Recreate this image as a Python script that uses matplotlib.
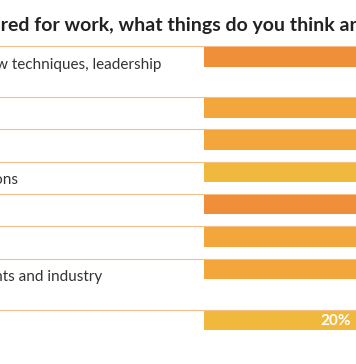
import matplotlib
matplotlib.use("Agg")
import matplotlib.pyplot as plt

plt.rcParams['font.family'] = ['Lato', 'DejaVu Sans']

title = "When you feel prepared for work, what things do you think are most important?"
labels = [
    "Learning about new techniques, leadership\nskills",
    "Teamwork",
    "Communication",
    "Personal connections",
    "Problem solving",
    "Organisation",
    "Awareness of events and industry\ntrends",
    "Adaptability",
]
values = [38, 31, 30, 26, 36, 30, 29, 20]
colors = ["#EF8F39", "#F2A63B", "#F2A63B", "#F0B93E",
          "#EF8F39", "#F2A63B", "#F2A63B", "#F0B93E"]
shown = [None, None, None, None, None, None, None, "20%"]

W, H = 356, 364
px = 7.6            # pixels per percent point
bar_left = 204      # pixel where the bars start

fig = plt.figure(figsize=(W / 100, H / 100), dpi=100)
ax = fig.add_axes([0, 0, 1, 1])
ax.set_xlim(-bar_left / px, (W - bar_left) / px)
ax.set_ylim(H, 0)
ax.axis("off")

# row layout: two-line labels take a taller row
tops = []
y = 46
for lab in labels:
    tops.append(y)
    y += 51 if "\n" in lab else 32.3

label_x = (-bar_left - 125) / px
for top, lab, v, c, s in zip(tops, labels, values, colors, shown):
    ax.axhline(top, color="#F6BF88", lw=0.8, zorder=1)
    ax.barh(top + 1, v, height=19.5, left=0, align="edge", color=c, zorder=2)
    ax.text(label_x, top + 11.5, lab, ha="left", va="top", fontsize=11,
            color="#333333", linespacing=1.25)
    if s:
        ax.annotate(s, (v, top + 11), xytext=(-4, 0), textcoords="offset points",
                    ha="right", va="center", fontsize=11, fontweight="bold",
                    color="white", zorder=3)

ax.text((-bar_left - 181.6) / px, 31, title, ha="left", va="baseline",
        fontsize=14, fontweight="bold", color="#222222")

fig.savefig("out.png", dpi=100)
